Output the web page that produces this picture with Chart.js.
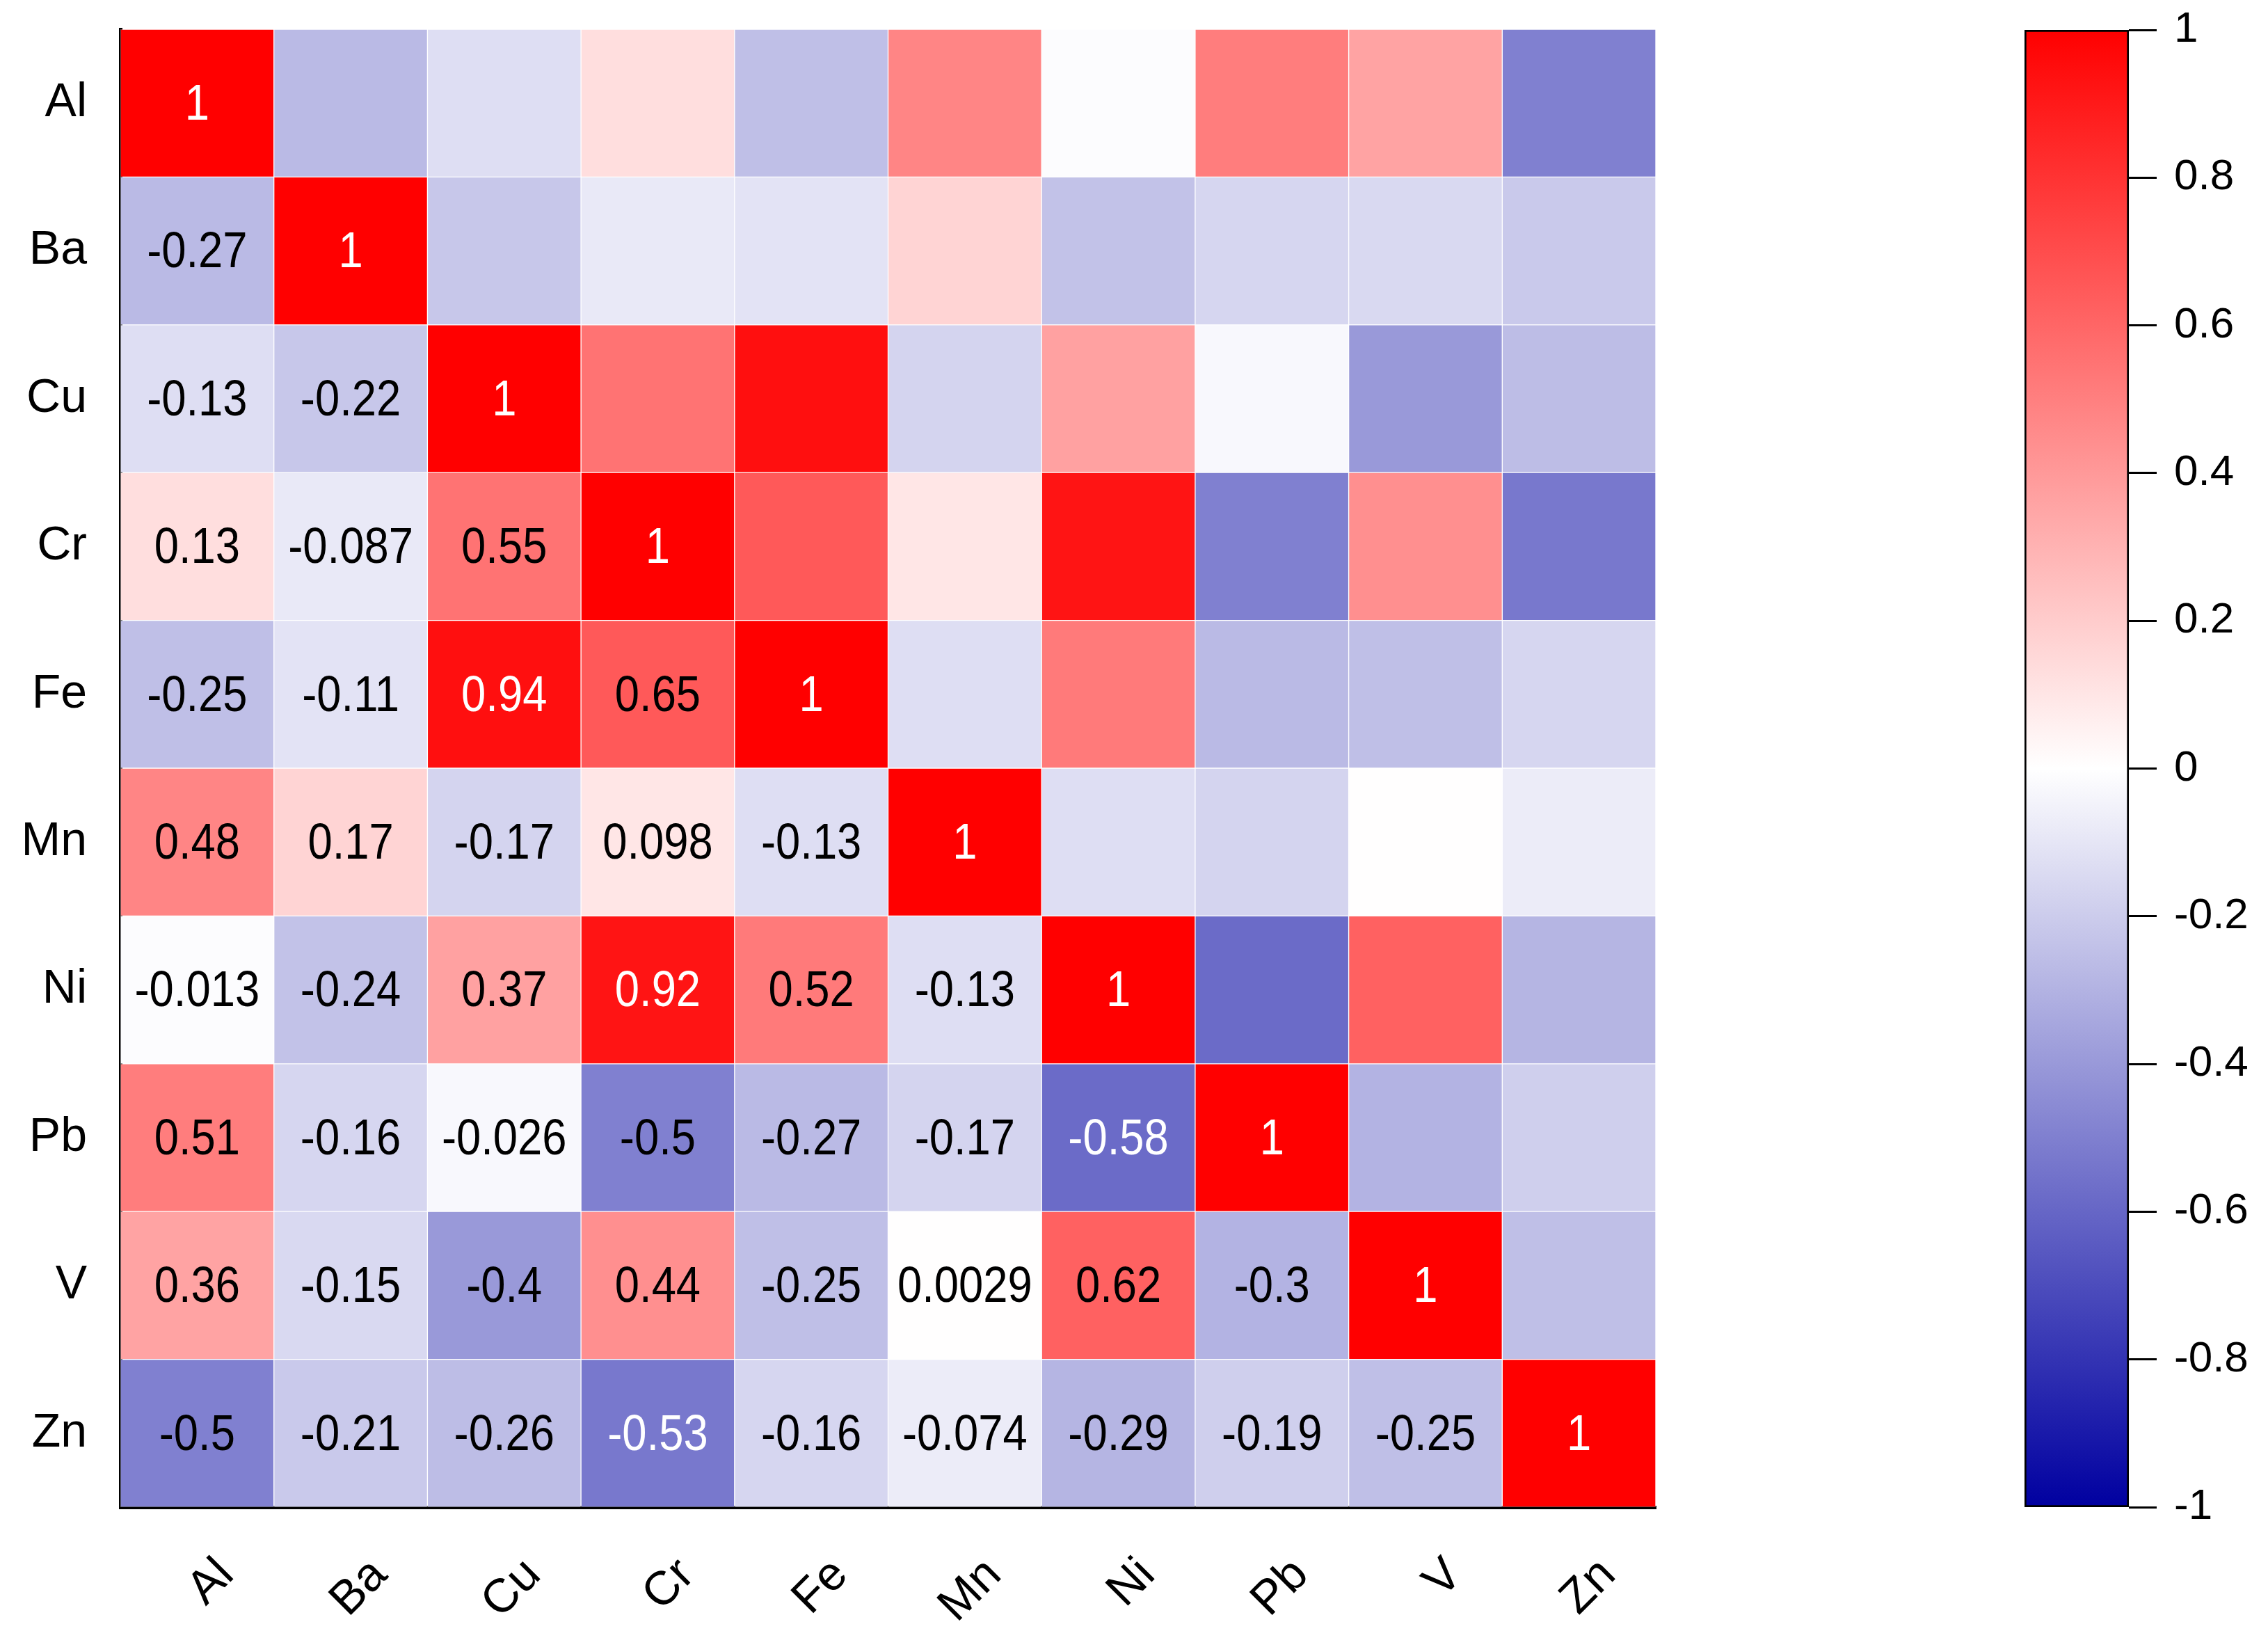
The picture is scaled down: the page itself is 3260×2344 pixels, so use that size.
<!DOCTYPE html>
<html>
<head>
<meta charset="utf-8">
<title>Correlation heatmap</title>
<script src="https://cdn.jsdelivr.net/npm/chart.js@4.4.1/dist/chart.umd.min.js"></script>
<style>
  html, body { margin: 0; padding: 0; background: #fff; overflow: hidden; }
  #wrap { position: relative; width: 3260px; height: 2344px; }
  #heatBox { position: absolute; left: 0; top: 0; width: 2420px; height: 2344px; }
  #barBox { position: absolute; left: 2860px; top: 0; width: 400px; height: 2344px; }
</style>
</head>
<body>
<div id="wrap">
  <div id="heatBox"><canvas id="heatChart"></canvas></div>
  <div id="barBox"><canvas id="scaleChart"></canvas></div>
</div>
<script>
// Element labels, rows top -> bottom and columns left -> right
const elements = ["Al", "Ba", "Cu", "Cr", "Fe", "Mn", "Ni", "Pb", "V", "Zn"];

// Lower triangle of the correlation matrix, one array per row
const rowAl = [1];
const rowBa = [-0.27, 1];
const rowCu = [-0.13, -0.22, 1];
const rowCr = [0.13, -0.087, 0.55, 1];
const rowFe = [-0.25, -0.11, 0.94, 0.65, 1];
const rowMn = [0.48, 0.17, -0.17, 0.098, -0.13, 1];
const rowNi = [-0.013, -0.24, 0.37, 0.92, 0.52, -0.13, 1];
const rowPb = [0.51, -0.16, -0.026, -0.5, -0.27, -0.17, -0.58, 1];
const rowV  = [0.36, -0.15, -0.4, 0.44, -0.25, 0.0029, 0.62, -0.3, 1];
const rowZn = [-0.5, -0.21, -0.26, -0.53, -0.16, -0.074, -0.29, -0.19, -0.25, 1];

// Colour bar tick labels
const scaleTicks = [1, 0.8, 0.6, 0.4, 0.2, 0, -0.2, -0.4, -0.6, -0.8, -1];

const lowerRows = [rowAl, rowBa, rowCu, rowCr, rowFe, rowMn, rowNi, rowPb, rowV, rowZn];

// full symmetric matrix (upper half mirrors the lower half)
const corr = elements.map((_, i) =>
    elements.map((_, j) => (j <= i ? lowerRows[i][j] : lowerRows[j][i]))
);

const BLUE_END = [0, 0, 160];

function corrColor(v) {
    if (v >= 0) {
        const c = Math.round(255 * (1 - v));
        return `rgb(255,${c},${c})`;
    }
    const t = -v;
    const r = Math.round(255 + (BLUE_END[0] - 255) * t);
    const g = Math.round(255 + (BLUE_END[1] - 255) * t);
    const b = Math.round(255 + (BLUE_END[2] - 255) * t);
    return `rgb(${r},${g},${b})`;
}

Chart.defaults.font.family = "'Liberation Sans', Arial, sans-serif";
Chart.defaults.color = "#000";

// Writes the numbers into the lower triangle (slightly narrow, like the original)
const cellText = {
    id: "cellText",
    afterDatasetsDraw(chart) {
        const ctx = chart.ctx;
        const squeeze = 0.88;
        ctx.save();
        ctx.font = "72px 'Liberation Sans', Arial, sans-serif";
        ctx.textAlign = "center";
        ctx.textBaseline = "middle";
        elements.forEach((col, j) => {
            const meta = chart.getDatasetMeta(j);
            elements.forEach((row, i) => {
                if (j > i) return;
                const v = corr[i][j];
                const p = meta.data[i].getCenterPoint();
                ctx.fillStyle = (v >= 0.9 || v <= -0.52) ? "#fff" : "#000";
                ctx.save();
                ctx.translate(p.x, p.y + 4);
                ctx.scale(squeeze, 1);
                ctx.fillText(String(v), 0, 0);
                ctx.restore();
            });
        });
        ctx.restore();
    }
};

// Heatmap: one stacked dataset per column, every cell is one unit wide
const heatCtx = document.getElementById("heatChart").getContext("2d");
new Chart(heatCtx, {
    type: "bar",
    data: {
        labels: elements,
        datasets: elements.map((col, j) => ({
            label: col,
            data: elements.map(() => 1),
            backgroundColor: elements.map((row, i) => corrColor(corr[i][j])),
            borderColor: "rgba(255,255,255,0.35)",
            borderWidth: 1,
            borderSkipped: false,
            barPercentage: 1,
            categoryPercentage: 1
        }))
    },
    options: {
        indexAxis: "y",
        responsive: true,
        maintainAspectRatio: false,
        animation: false,
        layout: { padding: { top: 42, right: 40, left: 0, bottom: 0 } },
        plugins: { legend: { display: false }, tooltip: { enabled: false } },
        scales: {
            x: {
                type: "linear",
                stacked: true,
                min: 0,
                max: elements.length,
                grid: { display: false },
                border: { display: true, color: "#000", width: 5 },
                afterBuildTicks: axis => {
                    axis.ticks = elements.map((_, i) => ({ value: i + 0.5 }));
                },
                afterFit: axis => {
                    axis.height = 178;
                    axis.paddingLeft = 0;
                    axis.paddingRight = 0;
                },
                ticks: {
                    autoSkip: false,
                    minRotation: 45,
                    maxRotation: 45,
                    padding: 50,
                    labelOffset: 42,
                    font: { size: 68 },
                    callback: (v, i) => elements[i]
                }
            },
            y: {
                type: "category",
                stacked: true,
                grid: { display: false },
                border: { display: true, color: "#000", width: 5 },
                afterFit: axis => {
                    axis.width = 173;
                    axis.paddingTop = 0;
                    axis.paddingBottom = 0;
                },
                ticks: { padding: 40, font: { size: 68 } }
            }
        }
    },
    plugins: [cellText]
});

// Colour bar: a single floating bar from -1 to 1 with a gradient fill
const scaleCtx = document.getElementById("scaleChart").getContext("2d");
new Chart(scaleCtx, {
    type: "bar",
    data: {
        labels: [""],
        datasets: [{
            data: [[-1, 1]],
            backgroundColor: context => {
                const chart = context.chart;
                if (!chart.chartArea) return "#fff";
                const y = chart.scales.y;
                const g = chart.ctx.createLinearGradient(0, y.getPixelForValue(-1), 0, y.getPixelForValue(1));
                g.addColorStop(0, corrColor(-1));
                g.addColorStop(0.5, corrColor(0));
                g.addColorStop(1, corrColor(1));
                return g;
            },
            borderColor: "#000",
            borderWidth: 3,
            borderSkipped: false,
            barPercentage: 1,
            categoryPercentage: 1
        }]
    },
    options: {
        responsive: true,
        maintainAspectRatio: false,
        animation: false,
        layout: { padding: { top: 43, bottom: 178, left: 50, right: 0 } },
        plugins: { legend: { display: false }, tooltip: { enabled: false } },
        scales: {
            x: { display: false },
            y: {
                position: "right",
                min: -1,
                max: 1,
                afterBuildTicks: axis => {
                    axis.ticks = scaleTicks.map(v => ({ value: v }));
                },
                afterFit: axis => {
                    axis.width = 200;
                    axis.paddingTop = 0;
                    axis.paddingBottom = 0;
                },
                grid: {
                    display: true,
                    drawOnChartArea: false,
                    drawTicks: true,
                    tickLength: 40,
                    color: "#000",
                    lineWidth: 3
                },
                border: { display: false },
                ticks: {
                    padding: 25,
                    font: { size: 62 },
                    callback: v => String(+Number(v).toFixed(1))
                }
            }
        }
    }
});
</script>
</body>
</html>
